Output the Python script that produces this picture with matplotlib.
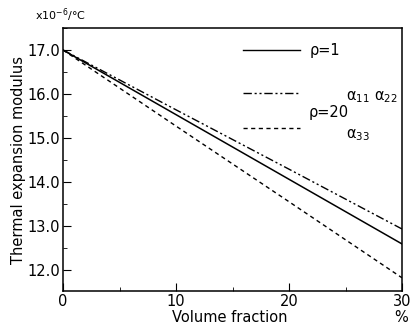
import matplotlib
matplotlib.use('Agg')
import matplotlib.pyplot as plt
from matplotlib.ticker import MultipleLocator

# volume fraction (%) and thermal expansion modulus (x10^-6 /degC)
volume_fraction = [0, 10, 20, 30]
rho1_alpha11 = [17.0, 15.53, 14.06, 12.59]
rho20_alpha11 = [17.0, 15.64, 14.29, 12.93]
rho20_alpha33 = [17.0, 15.27, 13.55, 11.82]

plt.rcParams['font.family'] = 'DejaVu Sans'
fig = plt.figure(figsize=(4.13, 3.27), dpi=100)
ax = fig.add_axes([63 / 413, 1 - 291 / 327, 339 / 413, 263 / 327])

dashdot = (0, (6, 2, 1.5, 2, 1.5, 2))
dashed = (0, (3, 2.5))
ax.plot(volume_fraction, rho1_alpha11, color='black', lw=1.1, ls='-')
ax.plot(volume_fraction, rho20_alpha11, color='black', lw=1.0, ls=dashdot)
ax.plot(volume_fraction, rho20_alpha33, color='black', lw=1.0, ls=dashed)

ax.set_xlim(0, 30)
ax.set_ylim(11.52, 17.5)
ax.set_xticks([0, 10, 20, 30])
ax.set_xticklabels(['0', '10', '20', '30'])
ax.xaxis.set_minor_locator(MultipleLocator(5))
ax.set_yticks([12, 13, 14, 15, 16, 17])
ax.set_yticklabels(['12.0', '13.0', '14.0', '15.0', '16.0', '17.0'])
ax.yaxis.set_minor_locator(MultipleLocator(0.5))
ax.tick_params(axis='both', which='major', direction='in', length=6, labelsize=10.5, pad=2)
ax.tick_params(axis='both', which='minor', direction='in', length=3)
for s in ax.spines.values():
    s.set_linewidth(1.1)

fig.text(19 / 413, 1 - 160 / 327, 'Thermal expansion modulus', fontsize=10.5,
         rotation=90, ha='center', va='center')
fig.text(230 / 413, 1 - 318 / 327, 'Volume fraction', fontsize=10.5, ha='center', va='center')
fig.text(401 / 413, 1 - 318 / 327, '%', fontsize=10.5, ha='center', va='center')
fig.text(35 / 413, 1 - 15 / 327, r'x10$^{-6}$/°C', fontsize=8, ha='left', va='center')

# legend drawn by hand, as in the figure
lx = [243, 300]
for y, ls in [(50, '-'), (93, dashdot), (128, dashed)]:
    fig.add_artist(plt.Line2D([lx[0] / 413, lx[1] / 413], [1 - y / 327, 1 - y / 327],
                              color='black', lw=1.0, ls=ls))
fig.text(310 / 413, 1 - 51 / 327, 'ρ=1', fontsize=10.5, va='center')
fig.text(346 / 413, 1 - 97 / 327, r'$\mathregular{α_{11}\ α_{22}}$', fontsize=10.5, va='center')
fig.text(309 / 413, 1 - 112 / 327, 'ρ=20', fontsize=10.5, va='center')
fig.text(346 / 413, 1 - 135 / 327, r'$\mathregular{α_{33}}$', fontsize=10.5, va='center')

fig.savefig('out.png', dpi=100)
